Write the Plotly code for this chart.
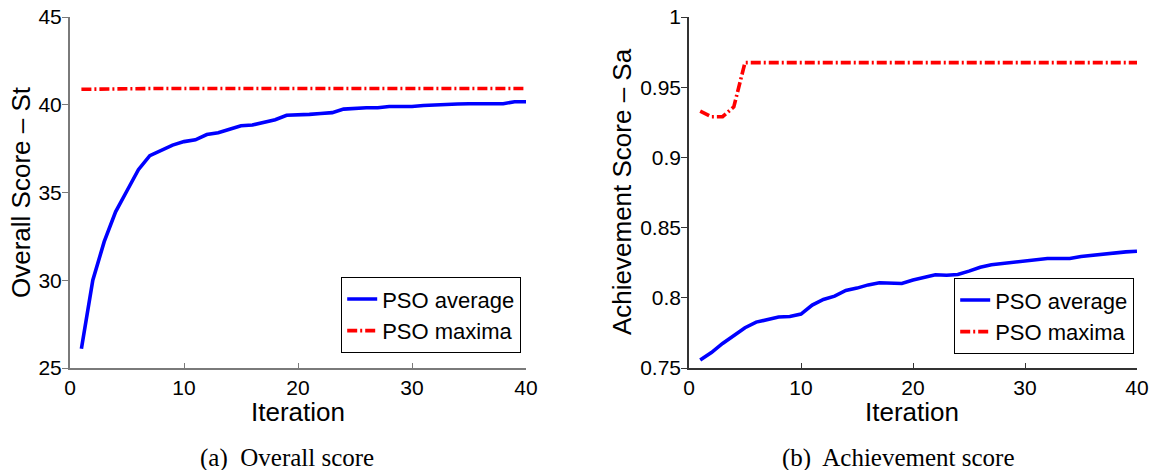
import plotly.graph_objects as go
from plotly.subplots import make_subplots

# Iteration index shared by both panels
iterations = list(range(1, 41))

# (a) Overall score St
overall_avg = [26.1, 30.0, 32.2, 33.9, 35.1, 36.3, 37.1, 37.4, 37.7, 37.9,
               38.0, 38.3, 38.4, 38.6, 38.8, 38.85, 39.0, 39.15, 39.4, 39.4,
               39.45, 39.5, 39.55, 39.75, 39.8, 39.83, 39.83, 39.9, 39.9, 39.9,
               39.96, 40.0, 40.02, 40.04, 40.06, 40.06, 40.06, 40.06, 40.17, 40.17]
overall_max = [40.88, 40.89] + [40.93] * 38

# (b) Achievement score Sa
achieve_avg = [0.7557, 0.761, 0.7675, 0.773, 0.7787, 0.7827, 0.7844, 0.7863, 0.7867, 0.7884,
               0.7948, 0.7988, 0.8012, 0.8052, 0.8069, 0.8092, 0.8107, 0.8107, 0.8102, 0.8126,
               0.8142, 0.8164, 0.8161, 0.8166, 0.819, 0.8218, 0.8235, 0.8244, 0.8254, 0.8265,
               0.8273, 0.828, 0.828, 0.828, 0.8294, 0.8303, 0.831, 0.832, 0.8327, 0.8332]
achieve_max = [0.933, 0.929, 0.929, 0.936] + [0.9675] * 36

x_ticks = [0, 10, 20, 30, 40]
y_ticks_a = [25, 30, 35, 40, 45]
y_ticks_b = [0.75, 0.8, 0.85, 0.9, 0.95, 1]
y_labels_b = ["0.75", "0.8", "0.85", "0.9", "0.95", "1"]

W, H = 1153, 470
SANS = "Liberation Sans"
SERIF = "Liberation Serif"
DASHDOT = "10px,3px,2px,3px"

fig = make_subplots(rows=1, cols=2)

fig.add_trace(go.Scatter(x=iterations, y=overall_avg, mode="lines", name="PSO average",
                         line=dict(color="#0000ff", width=3.6), legend="legend"), row=1, col=1)
fig.add_trace(go.Scatter(x=iterations, y=overall_max, mode="lines", name="PSO maxima",
                         line=dict(color="#ff0000", width=3.6, dash=DASHDOT), legend="legend"), row=1, col=1)
fig.add_trace(go.Scatter(x=iterations, y=achieve_avg, mode="lines", name="PSO average",
                         line=dict(color="#0000ff", width=3.6), legend="legend2"), row=1, col=2)
fig.add_trace(go.Scatter(x=iterations, y=achieve_max, mode="lines", name="PSO maxima",
                         line=dict(color="#ff0000", width=3.6, dash=DASHDOT), legend="legend2"), row=1, col=2)

y_dom = [1 - 368 / H, 1 - 17 / H]

def px(v):
    return v / W

common_x = dict(range=[0, 40], tickvals=x_ticks, ticks="inside", ticklen=5,
                showgrid=False, zeroline=False, showline=True, mirror=False, automargin=False,
                tickfont=dict(family=SANS, size=21, color="#000"))
common_y = dict(showgrid=False, zeroline=False, showline=True, mirror=False, automargin=False,
                ticks="outside", ticklen=6, ticklabelstandoff=-4,
                tickfont=dict(family=SANS, size=21, color="#000"))

fig.update_xaxes(domain=[px(70), px(526)], linecolor="#7a7a7a", linewidth=2,
                 tickcolor="#7a7a7a", **common_x, row=1, col=1)
fig.update_xaxes(domain=[px(689), px(1137)], linecolor="#333", linewidth=1.5,
                 tickcolor="#333", **common_x, row=1, col=2)
fig.update_yaxes(domain=y_dom, range=[25, 45], tickvals=y_ticks_a,
                 linecolor="#7a7a7a", linewidth=2, tickcolor="#7a7a7a", **common_y, row=1, col=1)
fig.update_yaxes(domain=y_dom, range=[0.75, 1], tickvals=y_ticks_b, ticktext=y_labels_b,
                 linecolor="#333", linewidth=1.5, tickcolor="#333", **common_y, row=1, col=2)

legend_style = dict(bgcolor="#ffffff", bordercolor="#000", borderwidth=1.2,
                    font=dict(family=SANS, size=22, color="#000"),
                    xanchor="right", yanchor="bottom", tracegroupgap=0, itemwidth=30)

ann = []
def text(x, y, s, size, family, angle=0):
    ann.append(dict(x=px(x), y=1 - y / H, xref="paper", yref="paper", text=s,
                    showarrow=False, textangle=angle, xanchor="center", yanchor="middle",
                    font=dict(family=family, size=size, color="#000")))

text(21, 192, "Overall Score – St", 26, SANS, -90)
text(622, 192, "Achievement Score – Sa", 26, SANS, -90)
text(298, 412, "Iteration", 26, SANS)
text(912, 412, "Iteration", 26, SANS)
text(287, 458, "(a)  Overall score", 25, SERIF)
text(898, 458, "(b)  Achievement score", 25, SERIF)

fig.update_layout(
    template="none",
    width=W, height=H, margin=dict(l=0, r=0, t=0, b=0, autoexpand=False),
    paper_bgcolor="#ffffff", plot_bgcolor="#ffffff",
    showlegend=True,
    legend=dict(x=px(521), y=1 - 353 / H, **legend_style),
    legend2=dict(x=px(1134), y=1 - 354 / H, **legend_style),
    annotations=ann,
)

fig.write_html("out.html")
